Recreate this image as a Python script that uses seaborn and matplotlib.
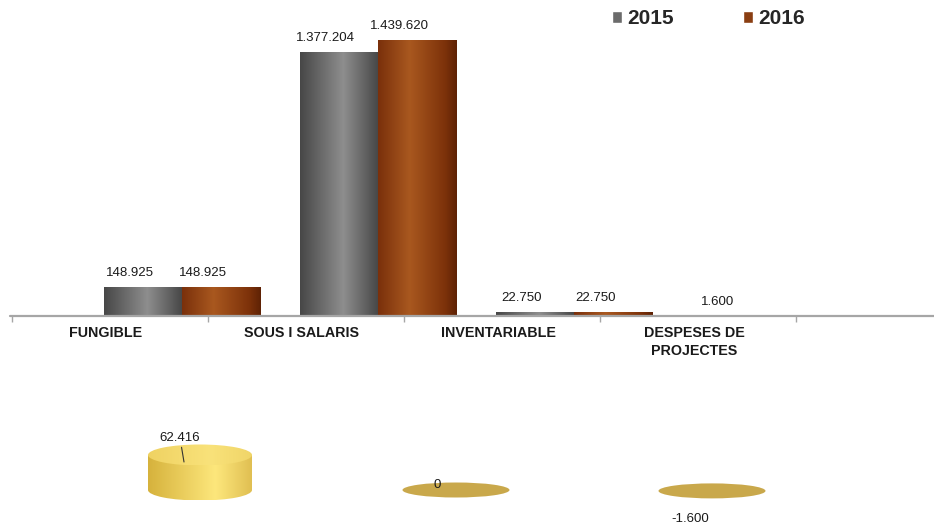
import numpy as np
import pandas as pd
import matplotlib.pyplot as plt
import seaborn as sns
from matplotlib.colors import LinearSegmentedColormap
from matplotlib.patches import Ellipse

# dades del gràfic
categories = ['FUNGIBLE', 'SOUS I SALARIS', 'INVENTARIABLE', 'DESPESES DE\nPROJECTES']
anys = ['2015', '2016']
valors_2015 = [148925, 1377204, 22750, 1600]
valors_2016 = [148925, 1439620, 22750, 0]
dif_categories = ['SOUS I SALARIS', 'INVENTARIABLE', 'DESPESES DE\nPROJECTES']
diferencies = [62416, 0, -1600]


def fmt(v):
    # separador de milers amb punt
    return f'{int(round(v)):,}'.replace(',', '.')


def gradient_fill(ax, patch, cmap, zorder):
    # omple un patch amb un degradat horitzontal (efecte cilindre)
    bb = patch.get_extents().transformed(ax.transData.inverted())
    grad = np.linspace(0, 1, 256).reshape(1, -1)
    im = ax.imshow(grad, cmap=cmap, aspect='auto', origin='lower',
                   extent=(bb.x0, bb.x1, bb.y0, bb.y1), zorder=zorder,
                   interpolation='bicubic')
    im.set_clip_path(patch)


sns.set_theme(style='white')
plt.rcParams['font.family'] = ['Liberation Sans', 'DejaVu Sans']

df = pd.DataFrame({
    'categoria': categories * 2,
    'valor': valors_2015 + valors_2016,
    'any': [anys[0]] * len(categories) + [anys[1]] * len(categories),
})

fig = plt.figure(figsize=(9.34, 5.29), dpi=100)

# 1. gràfic principal de barres
ax = fig.add_axes([0, 0, 1, 1])
colors = ['#6b6b6b', '#8a3e12']
sns.barplot(data=df, x='categoria', y='valor', hue='any', order=categories,
            hue_order=anys, palette=colors, width=0.8, errorbar=None,
            saturation=1, ax=ax)

k = 276 / 1439620  # píxels per unitat
ax.set_xlim(-182 / 196, (934 - 182) / 196)
ax.set_ylim(-213 / k, 316 / k)
ax.set_axis_off()

cmaps = [
    LinearSegmentedColormap.from_list('gris', [(0, '#474747'), (0.55, '#8e8e8e'), (1, '#464646')]),
    LinearSegmentedColormap.from_list('marro', [(0, '#7a300b'), (0.4, '#a9581f'), (0.85, '#7d320a'), (1, '#5e2205')]),
]
desp_x = [-13, -18]  # desplaçament de les etiquetes per la perspectiva
for cont, cmap, dx in zip(ax.containers, cmaps, desp_x):
    for bar in cont:
        v = bar.get_height()
        if v > 0:
            gradient_fill(ax, bar, cmap, 2)
            bar.set_facecolor('none')
        bar.set_edgecolor('none')
        if v != 0:
            ax.annotate(fmt(v), xy=(bar.get_x() + bar.get_width() / 2, v),
                        xytext=(dx, 14), textcoords='offset pixels',
                        ha='center', va='center', fontsize=9.5, color='#1a1a1a')

# línia de l'eix i marques
ax.axhline(0, xmin=10 / 934, xmax=1, color='#a6a6a6', lw=1.6, zorder=3)
ax.vlines([i - 170 / 196 for i in range(len(categories) + 1)], -6 / k, 0,
          color='#a6a6a6', lw=1, zorder=3)

# etiquetes de categoria (desplaçades per la perspectiva)
for i, cat in enumerate(categories):
    ax.annotate(cat, xy=(i, 0), xytext=(-76, -10), textcoords='offset pixels',
                ha='center', va='top', fontsize=10.3, fontweight='bold',
                color='#1a1a1a', linespacing=1.35)

# llegenda
h, l = ax.get_legend_handles_labels()
ax.legend(h, l, loc='upper left', bbox_to_anchor=(612 / 934, 1 - 9 / 529),
          ncol=2, frameon=False, handlelength=0.5, handleheight=0.5,
          handletextpad=0.25, columnspacing=3.3, borderpad=0, borderaxespad=0,
          prop={'family': 'Liberation Sans', 'weight': 'bold', 'size': 15})

# 2. diferències (cilindres daurats)
ax2 = fig.add_axes([0, 0, 1, 109 / 529])
ax2.patch.set_alpha(0)
k2 = 35 / 62416

dif_df = pd.DataFrame({'categoria': dif_categories, 'valor': diferencies})
sns.barplot(data=dif_df, x='categoria', y='valor', color='#e8c858', width=104 / 256,
            errorbar=None, saturation=1, ax=ax2)
ax2.set_xlim(-200 / 256, (934 - 200) / 256)
ax2.set_ylim(-39 / k2, 70 / k2)
ax2.set_axis_off()

or_cmap = LinearSegmentedColormap.from_list('or', [(0, '#d6b23c'), (0.65, '#fde77c'), (1, '#e0bf52')])
top_cmap = LinearSegmentedColormap.from_list('or_top', [(0, '#efd262'), (0.6, '#f9e27a'), (1, '#f0d568')])
for bar in ax2.patches:
    v = bar.get_height() + bar.get_y() if bar.get_y() >= 0 else bar.get_y()
    cx = bar.get_x() + bar.get_width() / 2
    w = bar.get_width()
    if bar.get_height() > 21 / k2:
        # cilindre: base, cos i tapa
        base = Ellipse((cx, 0), w, 21 / k2)
        ax2.add_patch(base)
        base.set_facecolor('none')
        base.set_edgecolor('none')
        gradient_fill(ax2, base, or_cmap, 1)
        gradient_fill(ax2, bar, or_cmap, 2)
        bar.set_facecolor('none')
        bar.set_edgecolor('none')
        top = Ellipse((cx, v), w, 21 / k2, zorder=3)
        ax2.add_patch(top)
        top.set_facecolor('none')
        top.set_edgecolor('none')
        gradient_fill(ax2, top, top_cmap, 3)
        ax2.annotate(fmt(v), xy=(cx - 16 / 256, v - 7 / k2), xytext=(-4, 24),
                     textcoords='offset pixels', ha='center', va='center',
                     fontsize=9.5, color='#1a1a1a',
                     arrowprops=dict(arrowstyle='-', color='#333333', lw=0.8,
                                     shrinkA=0, shrinkB=0))
    else:
        # disc pla
        bar.set_visible(False)
        ax2.add_patch(Ellipse((cx, v), 107 / 256, 15 / k2, facecolor='#c9a84b',
                              edgecolor='none', zorder=2))
        if v >= 0:
            ax2.annotate(fmt(v), xy=(cx, v), xytext=(-19, 5), textcoords='offset pixels',
                         ha='center', va='center', fontsize=9.5, color='#1a1a1a', zorder=4)
        else:
            ax2.annotate(fmt(v), xy=(cx, v), xytext=(-22, -28), textcoords='offset pixels',
                         ha='center', va='center', fontsize=9.5, color='#1a1a1a', zorder=4)

fig.savefig('out.png', dpi=100)
plt.close()
